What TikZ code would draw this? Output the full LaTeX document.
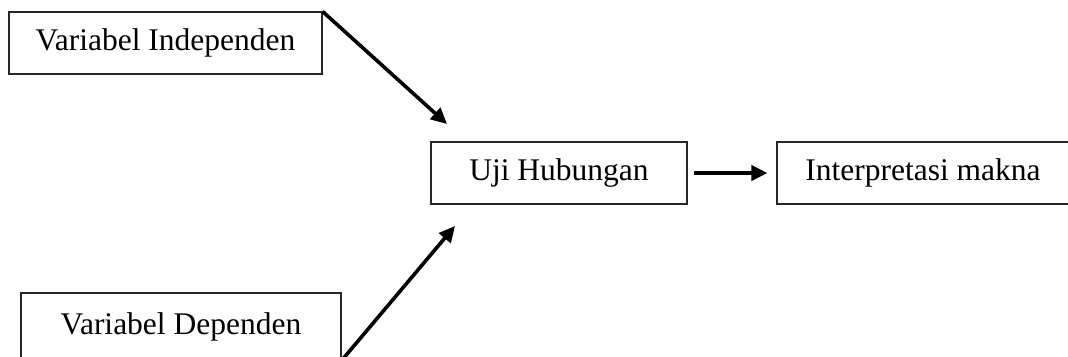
\documentclass[tikz,border=0pt]{standalone}
\usepackage{fontspec}
\setmainfont{Liberation Serif}
\usetikzlibrary{arrows.meta}
\begin{document}
\begin{tikzpicture}[x=1pt,y=-1pt,
  box/.style={draw=black!85,line width=1.1pt,inner sep=0pt,
    font=\fontsize{31.5}{36}\selectfont},
  conn/.style={line width=3.6pt,-{Triangle[length=16pt,width=15pt]}}]
\useasboundingbox (0,0) rectangle (1068,356);
\node[box,minimum width=313pt,minimum height=62pt] (ind) at (165.5,43) {Variabel Independen};
\node[box,minimum width=320pt,minimum height=67pt] (dep) at (181,326.5) {Variabel Dependen};
\node[box,minimum width=256pt,minimum height=62pt] (uji) at (559,173) {Uji Hubungan};
\node[box,minimum width=292pt,minimum height=62pt] (int) at (923,173) {Interpretasi makna};
\coordinate (t1) at (447,124);
\coordinate (t2) at (455,226);
\draw[conn] (ind.north east) -- (t1);
\draw[conn] (dep.south east) -- (t2);
\draw[conn,shorten <=6pt,shorten >=9pt] (uji.east) -- (int.west);
\end{tikzpicture}
\end{document}
